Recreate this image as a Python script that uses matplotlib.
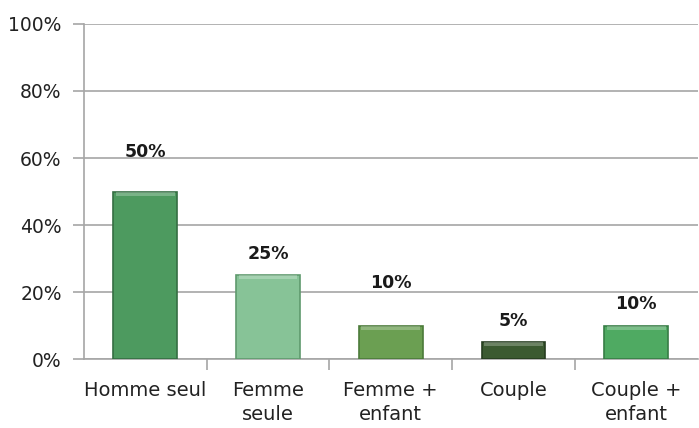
import matplotlib
matplotlib.use("Agg")
import matplotlib.pyplot as plt
from matplotlib.ticker import FixedLocator, NullFormatter
import numpy as np

# --- données ---
categories = ["Homme seul", "Femme\nseule", "Femme +\nenfant", "Couple", "Couple +\nenfant"]
values = [50, 25, 10, 5, 10]
colors = ["#4d9a5f", "#87c397", "#6b9f52", "#3b5a31", "#4faa62"]
edges = ["#356e43", "#5f9a6d", "#4b7a39", "#263d20", "#377d46"]
label_offsets = [22, 9, 24, 9, 9]  # points au-dessus des barres (placés à la main)
yticks = [0, 20, 40, 60, 80, 100]

plt.rcParams["font.family"] = ["DejaVu Sans"]

fig = plt.figure(figsize=(6.99, 4.28), dpi=100)
ax = fig.add_axes([0.120, 0.161, 0.878, 0.783])

x = np.arange(len(categories))
bars = ax.bar(x, values, width=0.52, color=colors, edgecolor=edges, linewidth=1.2, zorder=3)

# léger reflet en haut des barres
for b, c in zip(bars, colors):
    h = b.get_height()
    ax.bar(b.get_x() + b.get_width() / 2, min(1.2, h * 0.25), bottom=h - min(1.2, h * 0.25),
           width=b.get_width() * 0.92, color="white", alpha=0.25, linewidth=0, zorder=4)

for b, v, off in zip(bars, values, label_offsets):
    ax.annotate(f"{v}%", (b.get_x() + b.get_width() / 2, v), xytext=(0, off),
                textcoords="offset points", ha="center", va="bottom",
                fontsize=12.5, fontweight="bold", color="#1a1a1a")

ax.set_xlim(-0.5, len(categories) - 0.5)
ax.set_ylim(0, 100)
ax.set_yticks(yticks)
ax.set_yticklabels([f"{t}%" for t in yticks], fontsize=13.5, color="#222222")
ax.yaxis.grid(True, color="#a6a6a6", linewidth=1.2, zorder=0)
ax.tick_params(axis="y", length=8, width=1.2, color="#a6a6a6", pad=8)

# ticks entre les catégories, étiquettes centrées
ax.xaxis.set_major_locator(FixedLocator(np.arange(0.5, len(categories) - 0.5, 1)))
ax.xaxis.set_major_formatter(NullFormatter())
ax.xaxis.set_minor_locator(FixedLocator(x))
ax.set_xticklabels(categories, minor=True, fontsize=14, color="#222222", linespacing=1.3)
ax.tick_params(axis="x", which="major", length=8, width=1.2, color="#a6a6a6")
ax.tick_params(axis="x", which="minor", length=0, pad=16)

for s in ["top", "right"]:
    ax.spines[s].set_visible(False)
for s in ["left", "bottom"]:
    ax.spines[s].set_color("#a6a6a6")
    ax.spines[s].set_linewidth(1.2)

fig.savefig("out.png", dpi=100)
